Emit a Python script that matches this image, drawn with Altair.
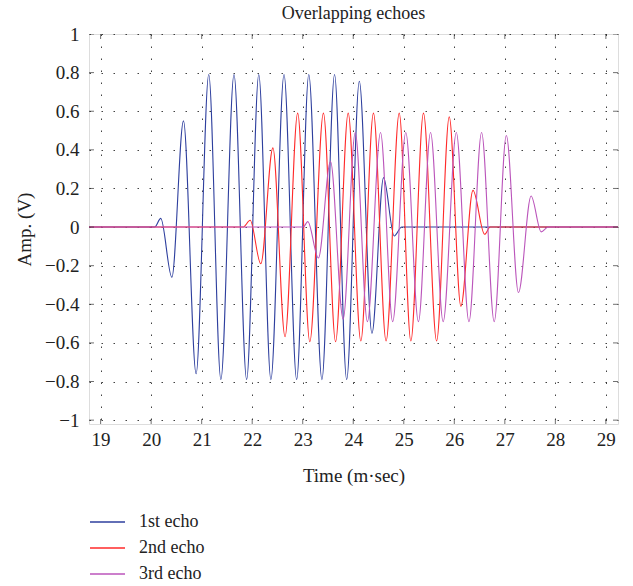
import altair as alt
import pandas as pd

# Peaks and troughs of each echo (time in ms, amplitude in V); the trace is
# flat at zero outside each burst.
echo1_t = [18.77, 20.07, 20.19, 20.41, 20.64, 20.89, 21.14, 21.38, 21.64, 21.89,
           22.13, 22.37, 22.63, 22.88, 23.12, 23.38, 23.63, 23.87, 24.12, 24.37,
           24.60, 24.81, 24.96, 29.24]
echo1_v = [0, 0, 0.045, -0.26, 0.55, -0.76, 0.79, -0.79, 0.79, -0.79,
           0.79, -0.79, 0.79, -0.79, 0.79, -0.79, 0.79, -0.79, 0.755, -0.55,
           0.256, -0.046, 0, 0]

echo2_t = [18.77, 21.82, 21.96, 22.17, 22.41, 22.65, 22.90, 23.14, 23.41, 23.65,
           23.90, 24.15, 24.40, 24.65, 24.91, 25.14, 25.39, 25.65, 25.90, 26.13,
           26.37, 26.60, 26.71, 29.24]
echo2_v = [0, 0, 0.035, -0.19, 0.41, -0.568, 0.59, -0.594, 0.59, -0.594,
           0.59, -0.59, 0.59, -0.59, 0.59, -0.59, 0.59, -0.59, 0.571, -0.41,
           0.19, -0.037, 0, 0]

echo3_t = [18.77, 23.01, 23.10, 23.31, 23.55, 23.80, 24.04, 24.28, 24.54, 24.78,
           25.04, 25.29, 25.53, 25.78, 26.04, 26.29, 26.54, 26.79, 27.03, 27.27,
           27.52, 27.72, 27.86, 29.24]
echo3_v = [0, 0, 0.028, -0.16, 0.34, -0.477, 0.49, -0.49, 0.49, -0.49,
           0.49, -0.49, 0.49, -0.49, 0.49, -0.49, 0.49, -0.49, 0.474, -0.339,
           0.161, -0.025, 0, 0]

series_names = ["1st echo", "2nd echo", "3rd echo"]
series_colors = ["#2e3f9e", "#ff2a2a", "#bb55bb"]

x_ticks = [19, 20, 21, 22, 23, 24, 25, 26, 27, 28, 29]
y_ticks = [-1, -0.8, -0.6, -0.4, -0.2, 0, 0.2, 0.4, 0.6, 0.8, 1]
x_range = [18.77, 29.24]
y_range = [-1.02, 1.0]

FONT = "Liberation Serif"

rows = []
for name, ts, vs in zip(series_names, [echo1_t, echo2_t, echo3_t],
                        [echo1_v, echo2_v, echo3_v]):
    for t, v in zip(ts, vs):
        rows.append({"time": t, "amp": v, "echo": name})
df = pd.DataFrame(rows)

x_scale = alt.Scale(domain=x_range, nice=False, zero=False)
y_scale = alt.Scale(domain=y_range, nice=False, zero=False)

grid_common = dict(
    grid=True, gridDash=[1.5, 10.5], gridColor="#222", gridOpacity=0.85,
    gridWidth=1, ticks=False, tickSize=0, domain=False,
    labelOverlap=False, labelFlush=False,
    labelFont=FONT, labelFontSize=19, labelColor="#222",
    titleFont=FONT, titleFontSize=19, titleFontWeight="normal", titleColor="#222",
)
x_axis = alt.Axis(title="Time (m\u00b7sec)", values=x_ticks, format="~g",
                  labelPadding=6, titlePadding=17, **grid_common)
y_axis = alt.Axis(title="Amp. (V)", values=y_ticks, format="~g",
                  labelPadding=10, titlePadding=10, **grid_common)

lines = alt.Chart(df).mark_line(
    strokeWidth=1.1, interpolate="monotone", clip=True
).encode(
    x=alt.X("time:Q", scale=x_scale, axis=x_axis),
    y=alt.Y("amp:Q", scale=y_scale, axis=y_axis),
    color=alt.Color(
        "echo:N",
        scale=alt.Scale(domain=series_names, range=series_colors),
        legend=alt.Legend(
            title=None, orient="none", legendX=0, legendY=478,
            symbolType="stroke", symbolSize=1225, symbolStrokeWidth=1.3,
            labelFont=FONT, labelFontSize=18, labelColor="#222",
            labelOffset=13, clipHeight=20, rowPadding=6,
        ),
    ),
    detail="echo:N",
)

# inward tick marks on all four sides of the box
xt = pd.DataFrame([{"time": t, "amp": y} for t in x_ticks for y in y_range])
yt = pd.DataFrame([{"time": x, "amp": v} for v in y_ticks for x in x_range])

x_tick_marks = alt.Chart(xt).mark_tick(
    orient="vertical", size=10, thickness=1, color="#333", clip=True
).encode(x=alt.X("time:Q", scale=x_scale, axis=x_axis),
         y=alt.Y("amp:Q", scale=y_scale, axis=y_axis))

y_tick_marks = alt.Chart(yt).mark_tick(
    orient="horizontal", size=10, thickness=1, color="#333", clip=True
).encode(x=alt.X("time:Q", scale=x_scale, axis=x_axis),
         y=alt.Y("amp:Q", scale=y_scale, axis=y_axis))

chart = alt.layer(lines, x_tick_marks, y_tick_marks).properties(
    width=529, height=390,
    title=alt.Title("Overlapping echoes", font=FONT, fontSize=18,
                    fontWeight="normal", color="#222", anchor="middle",
                    frame="group", baseline="alphabetic", offset=2, dy=14),
    autosize=alt.AutoSizeParams(type="none"),
    padding={"left": 89, "top": 34, "right": 15, "bottom": 162},
).configure_view(
    stroke="#333", strokeWidth=1
).configure(background="white")

chart.save("out.html", embed_options={"renderer": "svg", "actions": False})
